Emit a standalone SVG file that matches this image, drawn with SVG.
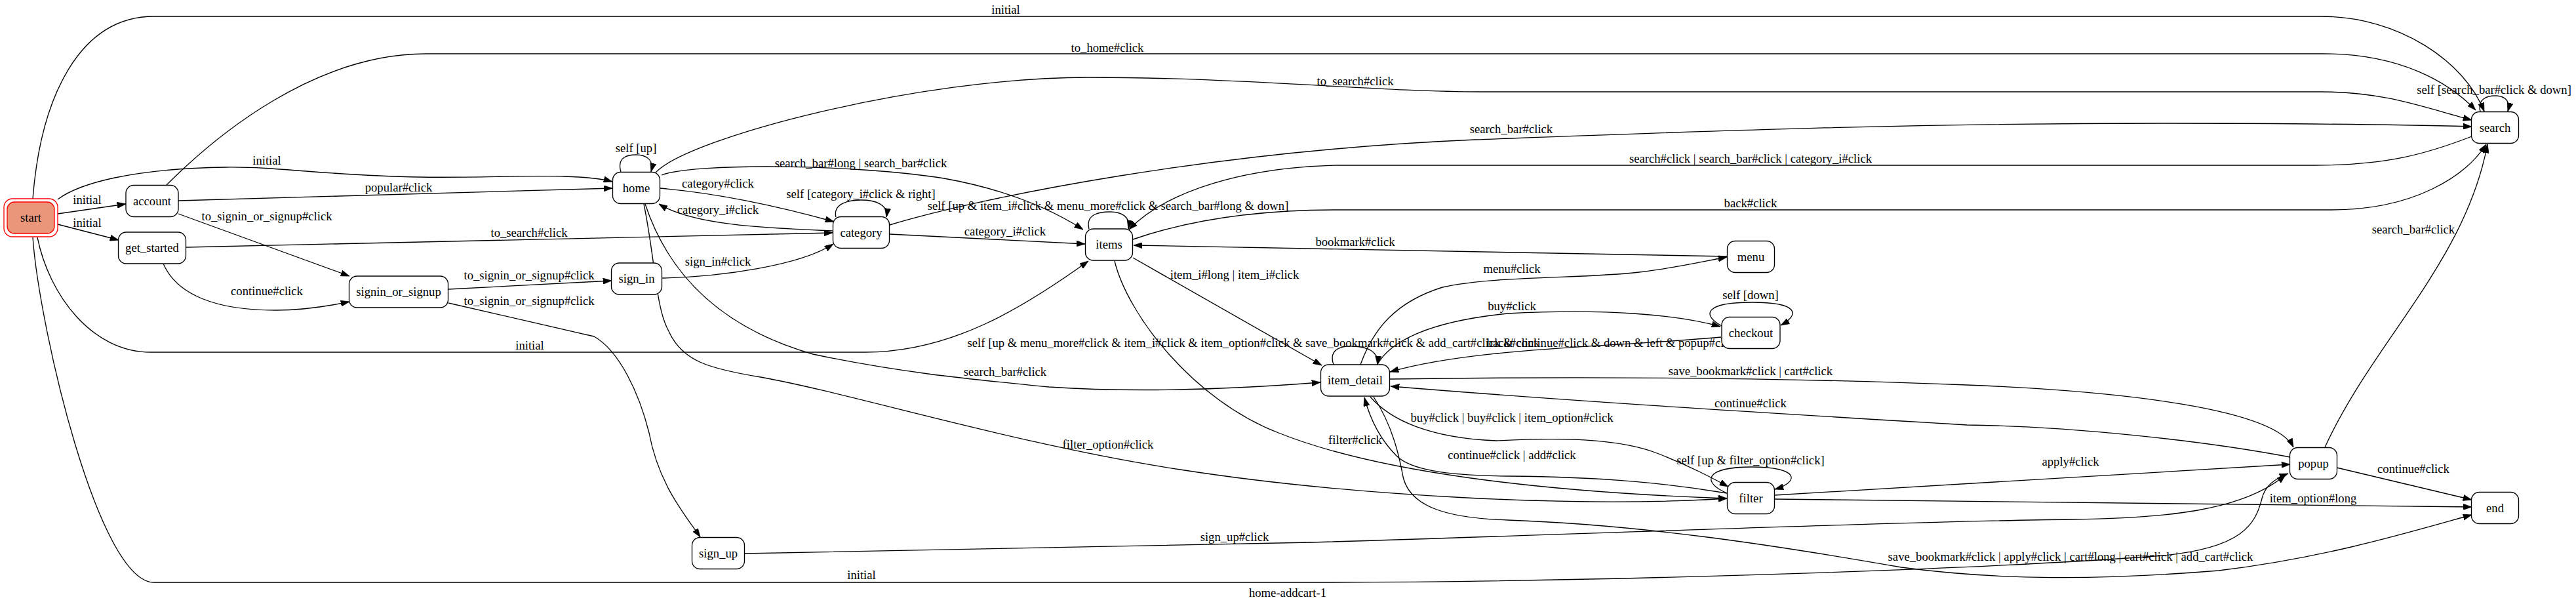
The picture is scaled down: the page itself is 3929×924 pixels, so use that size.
<svg xmlns="http://www.w3.org/2000/svg" width="3929" height="924" viewBox="0 0 3929 924">
<style>
text { font-family: "Liberation Serif", "Times New Roman", serif; font-size: 18.67px; text-anchor: middle; fill: #000; }
.e { fill: none; stroke: #000; stroke-width: 1.33; marker-end: url(#ah); }
.n rect { fill: #fff; stroke: #000; stroke-width: 1.33; }
</style>
<defs>
<marker id="ah" viewBox="0 0 10 7" refX="10" refY="3.5" markerWidth="13.3" markerHeight="9.3" markerUnits="userSpaceOnUse" orient="auto"><path d="M0,0 L10,3.5 L0,7 z" fill="#000" stroke="#000" stroke-width="0.5"/></marker>
</defs>
<rect x="0" y="0" width="3929" height="924" fill="#fff"/>
<g id="connectors">
<path class="e" d="M50,303 C62,150 120,25 235,25 L3540,25 C3660,25 3760,95 3789,170"/>
<text x="1534" y="21">initial</text>
<path class="e" d="M254,282 C330,206 480,82 650,82 L3545,82 C3660,82 3735,125 3776,168"/>
<text x="1689" y="79">to_home#click</text>
<path class="e" d="M88,304 C120,280 200,257 344,255 C430,254 500,268 640,270 C760,272 880,262 934,277"/>
<text x="407" y="251">initial</text>
<path class="e" d="M88,326 L192,311"/>
<text x="133" y="311">initial</text>
<path class="e" d="M88,342 L181,366"/>
<text x="133" y="346">initial</text>
<path class="e" d="M272,306 L934,287"/>
<text x="608" y="292">popular#click</text>
<path class="e" d="M272,326 L533,421"/>
<text x="407" y="336">to_signin_or_signup#click</text>
<path class="e" d="M249,402 C270,450 330,473 420,473 C460,473 500,467 533,460"/>
<text x="407" y="450">continue#click</text>
<path class="e" d="M284,377 L1270,355"/>
<text x="807" y="361">to_search#click</text>
<path class="e" d="M684,441 L933,428"/>
<text x="807" y="426">to_signin_or_signup#click</text>
<path class="e" d="M684,462 L906,513 C945,535 975,600 990,660 C1005,740 1045,785 1068,819"/>
<text x="807" y="465">to_signin_or_signup#click</text>
<path class="e" d="M1010,424 C1100,422 1220,405 1271,372"/>
<text x="1095" y="405">sign_in#click</text>
<path class="e" d="M947,262 C940,238 960,236 970,236 C985,236 998,243 993,262"/>
<text x="970" y="232">self [up]</text>
<path class="e" d="M1007,287 C1100,295 1200,318 1272,338"/>
<text x="1095" y="286">category#click</text>
<path class="e" d="M1270,352 C1180,348 1060,345 1005,311"/>
<text x="1095" y="326">category_i#click</text>
<path class="e" d="M1275,331 C1270,310 1295,305 1314,305 C1335,305 1355,312 1352,331"/>
<text x="1313" y="302">self [category_i#click &amp; right]</text>
<path class="e" d="M1009,267 C1060,248 1300,250 1440,272 C1540,290 1605,320 1652,350"/>
<text x="1313" y="255">search_bar#long | search_bar#click</text>
<path class="e" d="M1000,263 C1050,210 1400,118 1660,118 C1900,118 2100,140 2260,140 L3540,140 C3640,140 3700,165 3770,183"/>
<text x="2067" y="130">to_search#click</text>
<path class="e" d="M1357,343 C1500,300 1850,230 2250,213 C2600,200 2900,188 3300,188 C3500,188 3650,190 3770,193"/>
<text x="2305" y="203">search_bar#click</text>
<path class="e" d="M3770,208 C3700,235 3640,252 3530,252 L2040,252 C1900,255 1780,290 1722,350"/>
<text x="2670" y="248">search#click | search_bar#click | category_i#click</text>
<path class="e" d="M1728,365 C1800,340 1900,320 2040,320 L3556,320 C3680,320 3760,270 3792,220"/>
<text x="2670" y="316">back#click</text>
<path class="e" d="M3546,682 C3620,520 3760,400 3794,220"/>
<text x="3681" y="356">search_bar#click</text>
<path class="e" d="M2634,391 C2300,382 2000,378 1729,374"/>
<text x="2067" y="375">bookmark#click</text>
<path class="e" d="M1661,349 C1655,325 1680,323 1693,323 C1710,323 1725,330 1721,349"/>
<text x="1690" y="320">self [up &amp; item_i#click &amp; menu_more#click &amp; search_bar#long &amp; down]</text>
<path class="e" d="M1357,357 L1655,372"/>
<text x="1533" y="359">category_i#click</text>
<path class="e" d="M1728,393 L2016,557"/>
<text x="1883" y="425">item_i#long | item_i#click</text>
<path class="e" d="M57,362 C75,450 140,537 230,537 L1320,537 C1450,537 1560,470 1660,398"/>
<text x="808" y="533">initial</text>
<path class="e" d="M984,311 C1020,420 1100,500 1240,540 C1380,570 1500,580 1600,590 C1750,600 1900,592 2014,583"/>
<text x="1533" y="573">search_bar#click</text>
<path class="e" d="M982,311 C1000,400 1000,470 1020,505 C1040,550 1080,562 1160,575 C1300,600 1550,678 1800,716 C2050,755 2400,775 2634,760"/>
<text x="1690" y="684">filter_option#click</text>
<path class="e" d="M1136,844 L2000,827 C2400,815 2900,795 3160,792 C3300,790 3420,780 3486,724"/>
<text x="1883" y="825">sign_up#click</text>
<path class="e" d="M2100,557 C2120,520 2180,490 2300,478 C2450,470 2560,480 2624,498"/>
<text x="2306" y="473">buy#click</text>
<path class="e" d="M2034,556 C2025,530 2050,527 2065,528 C2085,529 2103,535 2101,556"/>
<text x="2067" y="529">self [up &amp; menu_more#click &amp; item_i#click &amp; item_option#click &amp; save_bookmark#click &amp; add_cart#click &amp; continue#click &amp; down &amp; left &amp; popup#click]</text>
<path class="e" d="M2625,514 C2450,530 2250,530 2120,567"/>
<text x="2308" y="529">back#click</text>
<path class="e" d="M2075,556 C2095,500 2130,460 2200,438 C2280,420 2420,425 2500,415 C2560,408 2600,398 2634,392"/>
<text x="2306" y="416">menu#click</text>
<path class="e" d="M2120,578 C2400,574 2700,575 3000,587 C3250,597 3470,625 3498,682"/>
<text x="2670" y="572">save_bookmark#click | cart#click</text>
<path class="e" d="M3493,697 C3350,670 3150,650 3000,648 C2700,630 2400,612 2121,589"/>
<text x="2670" y="621">continue#click</text>
<path class="e" d="M2090,605 C2120,640 2180,668 2282,672 C2380,667 2470,668 2530,692 C2580,712 2610,728 2636,742"/>
<text x="2306" y="643">buy#click | buy#click | item_option#click</text>
<path class="e" d="M2634,752 C2550,738 2450,727 2300,726 C2200,725 2150,715 2130,695 C2105,670 2090,640 2081,606"/>
<text x="2306" y="700">continue#click | add#click</text>
<path class="e" d="M1700,398 C1720,480 1820,610 1950,660 C2100,720 2350,750 2634,760"/>
<text x="2067" y="677">filter#click</text>
<path class="e" d="M2634,752 C2595,735 2600,712 2672,712 C2745,712 2745,735 2707,746"/>
<text x="2670" y="708">self [up &amp; filter_option#click]</text>
<path class="e" d="M2626,497 C2595,480 2600,461 2672,461 C2745,461 2745,480 2716,496"/>
<text x="2670" y="456">self [down]</text>
<path class="e" d="M2707,755 L3493,708"/>
<text x="3158" y="710">apply#click</text>
<path class="e" d="M2707,761 L3770,773"/>
<text x="3528" y="766">item_option#long</text>
<path class="e" d="M2095,605 C2125,650 2135,700 2140,727 C2150,770 2200,790 2300,793 C2500,800 2700,830 2900,865 C3050,885 3200,885 3384,870 C3550,850 3680,810 3770,785"/>
<text x="3158" y="855">save_bookmark#click | apply#click | cart#long | cart#click | add_cart#click</text>
<path class="e" d="M50,362 C60,500 150,888 235,888 L2000,888 C2400,888 3000,870 3300,847 C3420,835 3440,800 3450,760 C3455,740 3470,730 3490,722"/>
<text x="1314" y="883">initial</text>
<path class="e" d="M3564,713 L3770,762"/>
<text x="3681" y="721">continue#click</text>
<path class="e" d="M3783,170 C3778,150 3795,146 3806,146 C3818,146 3830,152 3825,170"/>
<text x="3804" y="143">self [search_bar#click &amp; down]</text>
</g>
<g id="start">
<rect x="6" y="303" width="82" height="58" rx="13" fill="none" stroke="#ff0000" stroke-width="1.33"/>
<rect x="11" y="308" width="72" height="48" rx="11" fill="#e9967a" stroke="#ff0000" stroke-width="1.33"/>
<text x="47" y="338">start</text>
</g>
<g id="account" class="n"><rect x="192" y="282.5" width="80" height="48" rx="12"/><text x="232" y="312.5">account</text></g>
<g id="get_started" class="n"><rect x="180.5" y="354" width="103" height="48" rx="12"/><text x="232" y="384">get_started</text></g>
<g id="signin_or_signup" class="n"><rect x="532.5" y="421" width="151" height="48" rx="12"/><text x="608" y="451">signin_or_signup</text></g>
<g id="home" class="n"><rect x="934.5" y="262.5" width="72" height="48" rx="12"/><text x="970.5" y="292.5">home</text></g>
<g id="sign_in" class="n"><rect x="932.5" y="401" width="77" height="48" rx="12"/><text x="971" y="431">sign_in</text></g>
<g id="category" class="n"><rect x="1270.5" y="330.5" width="86" height="48" rx="12"/><text x="1313.5" y="360.5">category</text></g>
<g id="items" class="n"><rect x="1655.5" y="349" width="72" height="48" rx="12"/><text x="1691.5" y="379">items</text></g>
<g id="sign_up" class="n"><rect x="1055.5" y="819.5" width="80" height="48" rx="12"/><text x="1095.5" y="849.5">sign_up</text></g>
<g id="menu" class="n"><rect x="2634.5" y="367.5" width="72" height="48" rx="12"/><text x="2670.5" y="397.5">menu</text></g>
<g id="checkout" class="n"><rect x="2626" y="483.5" width="89" height="48" rx="12"/><text x="2670.5" y="513.5">checkout</text></g>
<g id="item_detail" class="n"><rect x="2014.5" y="556" width="105" height="48" rx="12"/><text x="2067" y="586">item_detail</text></g>
<g id="filter" class="n"><rect x="2634.5" y="735.5" width="72" height="48" rx="12"/><text x="2670.5" y="765.5">filter</text></g>
<g id="search" class="n"><rect x="3769.5" y="170.5" width="72" height="48" rx="12"/><text x="3805.5" y="200.5">search</text></g>
<g id="popup" class="n"><rect x="3492.5" y="682.5" width="72" height="48" rx="12"/><text x="3528.5" y="712.5">popup</text></g>
<g id="end" class="n"><rect x="3769.5" y="750.5" width="72" height="48" rx="12"/><text x="3805.5" y="780.5">end</text></g>
<text x="1964" y="910">home-addcart-1</text>
</svg>
